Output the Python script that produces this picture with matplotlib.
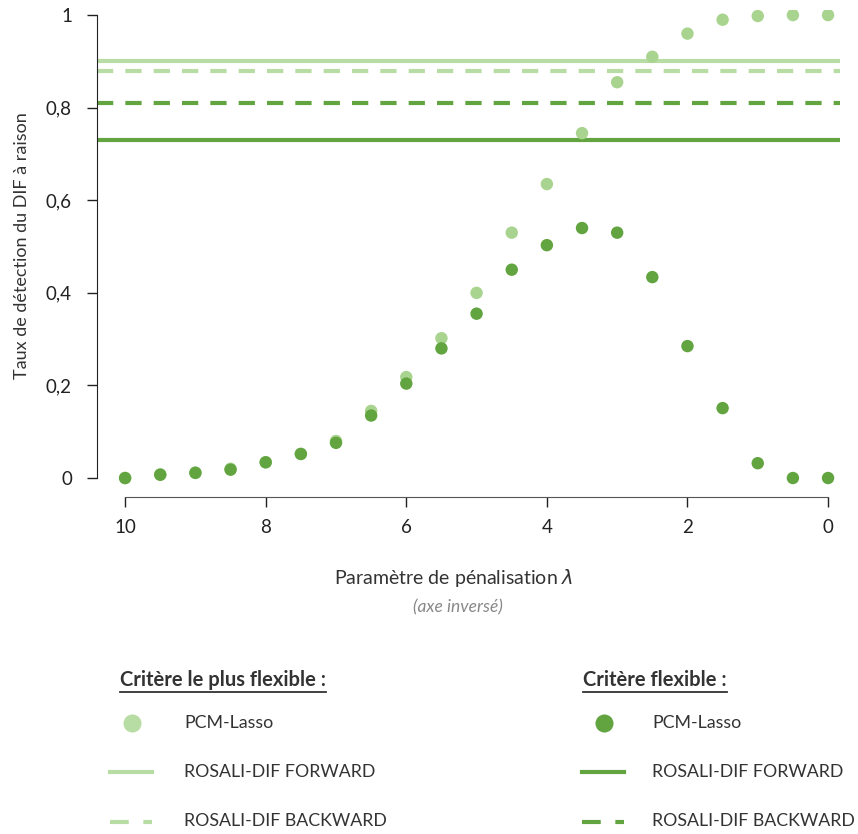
import numpy as np
import matplotlib
matplotlib.use('Agg')
import matplotlib.pyplot as plt
from matplotlib.lines import Line2D

plt.rcParams['font.family'] = ['Lato', 'DejaVu Sans']

# données
lambdas = [10, 9.5, 9, 8.5, 8, 7.5, 7, 6.5, 6, 5.5, 5, 4.5, 4, 3.5, 3, 2.5, 2, 1.5, 1, 0.5, 0]
lasso_plus_flexible = [0.0, 0.008, 0.012, 0.02, 0.034, 0.052, 0.08, 0.145, 0.218, 0.302,
                       0.40, 0.53, 0.635, 0.745, 0.855, 0.91, 0.96, 0.99, 0.998, 1.0, 1.0]
lasso_flexible = [0.0, 0.007, 0.011, 0.018, 0.034, 0.052, 0.076, 0.135, 0.204, 0.28,
                  0.355, 0.45, 0.503, 0.54, 0.53, 0.434, 0.285, 0.151, 0.032, 0.0, 0.0]
rosali_forward = {'plus_flexible': 0.90, 'flexible': 0.73}
rosali_backward = {'plus_flexible': 0.88, 'flexible': 0.81}

col_clair = '#a9d48f'
col_clair_ligne = '#b8dda4'
col_fonce = '#62a440'
col_texte = '#333333'
tirets = (0, (3.9, 2.9))

fig = plt.figure(figsize=(8.58, 8.34), dpi=100)
ax = fig.add_axes([97/858, (834-497)/834, (840-97)/858, (497-10)/834])

xmin, xmax = 10.4, -0.17
ax.set_xlim(xmin, xmax)
ax.set_ylim(-0.041, 1.011)

# lignes horizontales ROSALI-DIF
ax.axhline(rosali_forward['plus_flexible'], color=col_clair_ligne, lw=3, zorder=1)
ax.axhline(rosali_backward['plus_flexible'], color=col_clair_ligne, lw=3, ls=tirets, zorder=1)
ax.axhline(rosali_backward['flexible'], color=col_fonce, lw=3, ls=tirets, zorder=1)
ax.axhline(rosali_forward['flexible'], color=col_fonce, lw=3, zorder=1)

# points PCM-Lasso
ax.scatter(lambdas, lasso_plus_flexible, s=80, color=col_clair, edgecolors='none', zorder=3)
ax.scatter(lambdas, lasso_flexible, s=80, color=col_fonce, edgecolors='none', zorder=4)

for s in ['top', 'right']:
    ax.spines[s].set_visible(False)
ax.spines['left'].set_bounds(0, 1)
ax.spines['bottom'].set_bounds(10, 0)
ax.spines['left'].set_color('#222222')
ax.spines['bottom'].set_color('#555555')

ax.set_yticks([0, 0.2, 0.4, 0.6, 0.8, 1.0])
ax.set_yticklabels(['0', '0,2', '0,4', '0,6', '0,8', '1'])
ax.set_xticks([10, 8, 6, 4, 2, 0])
ax.set_xticklabels(['10', '8', '6', '4', '2', '0'])
ax.tick_params(axis='both', length=7, width=1, labelsize=13.5, colors='#222222', pad=11)
ax.tick_params(axis='x', pad=9)

fig.text(22/858, 1 - 246/834, 'Taux de détection du DIF à raison', rotation=90,
         ha='center', va='center', fontsize=13, color=col_texte)
fig.text(454/858, 1 - 578/834, r'Paramètre de pénalisation $\lambda$', ha='center', va='center',
         fontsize=14, color=col_texte)
fig.text(458/858, 1 - 607/834, '(axe inversé)', ha='center', va='center',
         fontsize=12.5, color='#888888', style='italic')

# légende manuelle
def legende(x_titre, titre, x_sym, x_lab, couleur_pt, couleur_ligne):
    t = fig.text(x_titre/858, 1 - 680/834, titre, ha='left', va='center',
                 fontsize=14.5, fontweight='bold', color=col_texte)
    fig.canvas.draw()
    bb = t.get_window_extent().transformed(fig.transFigure.inverted())
    fig.add_artist(Line2D([bb.x0, bb.x1], [bb.y0 - 0.002, bb.y0 - 0.002],
                          transform=fig.transFigure, color=col_texte, lw=1.3))
    fig.add_artist(Line2D([x_sym/858], [1 - 723/834], marker='o', markersize=13,
                          color=couleur_pt, mec='none', transform=fig.transFigure))
    fig.add_artist(Line2D([(x_sym-22)/858, (x_sym+20)/858], [1 - 772/834]*2,
                          color=couleur_ligne, lw=3, transform=fig.transFigure))
    fig.add_artist(Line2D([(x_sym-22)/858, (x_sym+20)/858], [1 - 822/834]*2,
                          color=couleur_ligne, lw=3, ls=(0, (4.5, 3.5)), transform=fig.transFigure))
    for yy, lab in [(723, 'PCM-Lasso'), (772, 'ROSALI-DIF FORWARD'), (821, 'ROSALI-DIF BACKWARD')]:
        fig.text(x_lab/858, 1 - yy/834, lab, ha='left', va='center', fontsize=12.8, color=col_texte)

legende(120, 'Critère le plus flexible :', 132, 184, col_clair_ligne, col_clair_ligne)
legende(583, 'Critère flexible :', 604, 652, col_fonce, col_fonce)

fig.savefig('out.png', dpi=100, facecolor='white')
